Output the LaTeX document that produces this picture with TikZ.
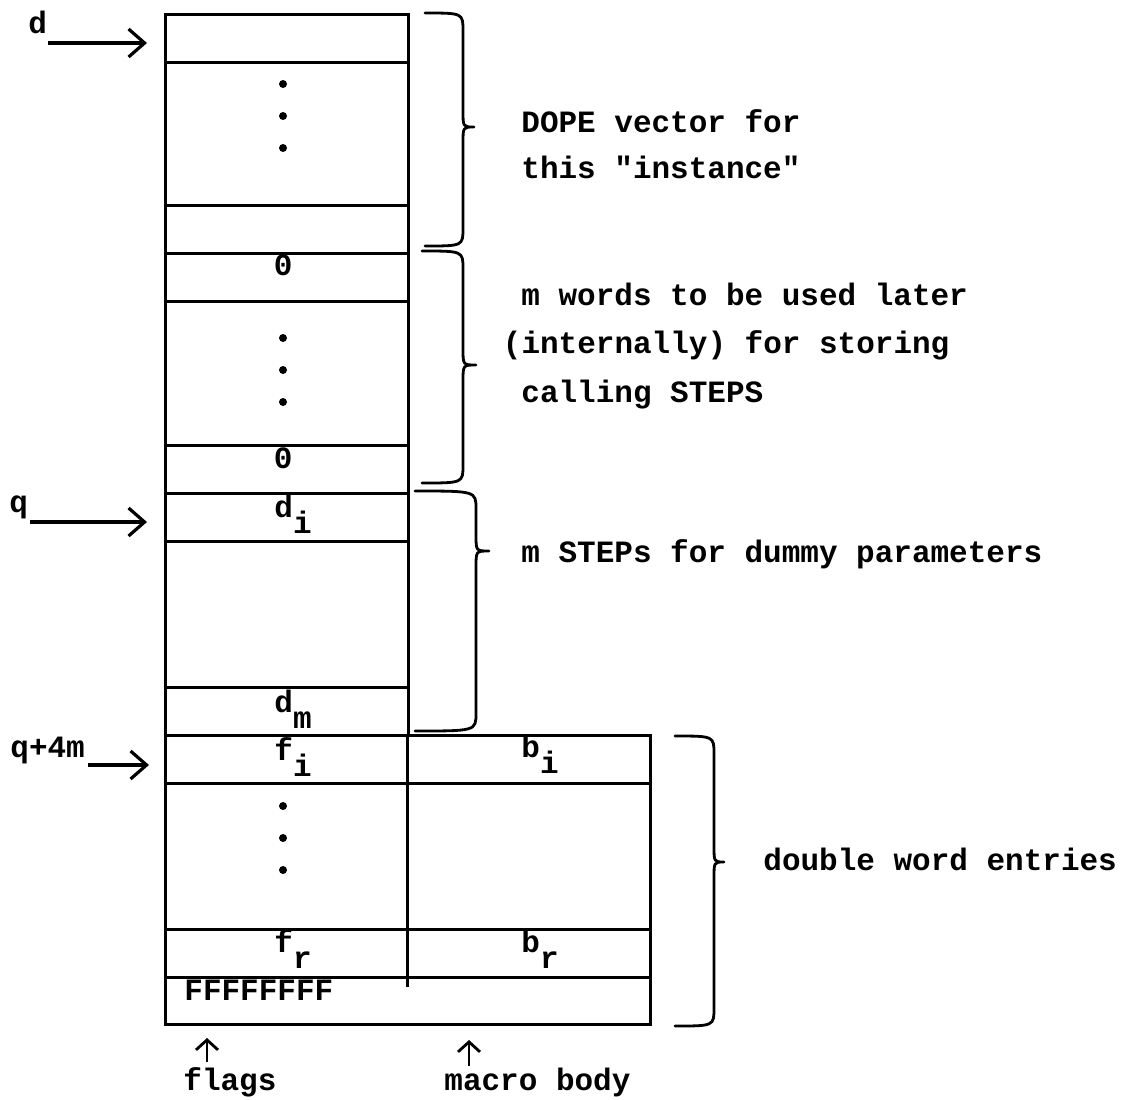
\documentclass[tikz,border=0pt]{standalone}
\usepackage{fontspec}
\setmonofont{Liberation Mono}
\usetikzlibrary{arrows.meta,calc}
\newcommand{\ArrTip}{Straight Barb[length=8pt,width=14pt]}
\newcommand{\UpTip}{Straight Barb[length=5pt,width=11pt]}
\newcommand{\Sub}[2]{#1\raisebox{-8pt}{#2}}
% x0, straight x, tip x, top y, tip y, bottom y
\newcommand{\HandBrace}[6]{\draw[brc](#1,#4)..controls(#2,#4)..(#2,#4+18)--(#2,#5-16)..controls(#2,#5)..(#3,#5)..controls(#2,#5)..(#2,#5+16)--(#2,#6-18)..controls(#2,#6)..(#1,#6);}
\tikzset{word/.style={draw,line width=1.5pt,inner sep=0pt,outer sep=0pt,anchor=north west,minimum width=121.5pt,minimum height=24pt}}
\tikzset{big/.style={word,minimum height=72pt},dword/.style={word,minimum width=242.5pt}}
\tikzset{txt/.style={inner sep=0pt,anchor=base west,font=\ttfamily\bfseries\fontsize{15.5}{18}\selectfont}}
\tikzset{ptr/.style={-{\ArrTip},line width=1.6pt},up/.style={-{\UpTip},line width=1.4pt},brc/.style={line width=1.4pt,line cap=round,line join=round}}
\begin{document}
\begin{tikzpicture}[x=0.5pt,y=-0.5pt]
\useasboundingbox(0,0)rectangle(1124,1099);
% the column
\node[word](w1)at(165,14){};\node[big,minimum height=71.5pt](w2)at(165,62){};\node[word](w3)at(165,205){};
\node[word](w4)at(165,253){};\node[big](w5)at(165,301){};\node[word](w6)at(165,445){};
\node[word](w7)at(165,493){};\node[big,minimum height=73pt](w8)at(165,541){};\node[word](w9)at(165,687){};
\node[dword](w10)at(165,735){};\node[dword,minimum height=73pt](w11)at(165,783){};
\node[dword](w12)at(165,929){};\node[dword,minimum height=23.5pt](w13)at(165,977){};
\draw[line width=1.5pt](w10.north)--([yshift=-5pt]w13.north);
\foreach \y in {84,116,148,338,370,402,806,838,870}\fill(283,\y)circle[radius=2pt];
% contents
\node[txt](z1)at(273.5,275){0};\node[txt](z2)at(273.5,468){0};
\node[txt](di)at(274,517){\Sub{d}{i}};\node[txt](dm)at(274,712){\Sub{d}{m}};
\node[txt](fi)at(274,760){\Sub{f}{i}};\node[txt](bi)at(521,757){\Sub{b}{i}};
\node[txt](fr)at(274,952){\Sub{f}{r}};\node[txt](br)at(521,952){\Sub{b}{r}};
\node[txt](ff)at(184,1000){FFFFFFFF};
% pointers
\node[txt](d)at(28,33){d};\node[txt](q)at(9,512){q};\node[txt](q4m)at(10,757){q+4m};
\coordinate(dt)at(48,43);\coordinate(qt)at(30,522);\coordinate(q4t)at(88,765);
\draw[ptr,shorten >=9pt](dt)--(dt-|w1.west);\draw[ptr,shorten >=9pt](qt)--(qt-|w7.west);
\draw[ptr,shorten >=8pt](q4t)--(q4t-|w10.west);
\node[txt](flg)at(183,1090){flags};\node[txt](mbody)at(444,1090){macro body};
\coordinate(fa)at(207,1062);\coordinate(ma)at(469,1066);
\draw[up,shorten >=7pt](fa)--(fa|-w13.south);\draw[up,shorten >=8pt](ma)--(ma|-w13.south);
% braces
\HandBrace{425}{463}{474}{13}{127}{246}
\HandBrace{422}{463}{476}{251}{365}{483}
\HandBrace{415}{476}{489}{491}{551}{731}
\HandBrace{675}{714}{724}{736}{862}{1026}
\node[txt](dope)at(521,132){DOPE vector for};\node[txt](inst)at(521,178){this "instance"};
\node[txt](mw)at(521,305){m words to be used later};
\node[txt](intl)at(502.5,353){(internally) for storing};
\node[txt](call)at(521,402){calling STEPS};
\node[txt](mst)at(521,562){m STEPs for dummy parameters};
\node[txt](dbl)at(763,870){double word entries};
\end{tikzpicture}
\end{document}
